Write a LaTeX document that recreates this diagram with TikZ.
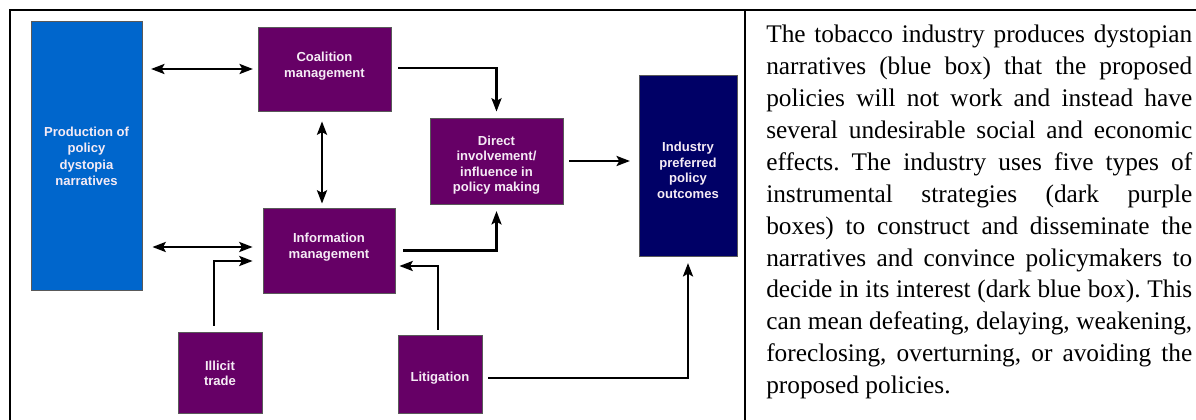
\documentclass[tikz,border=0pt]{standalone}
\usepackage{fontspec}
\setmainfont{Liberation Serif}
\setsansfont{Liberation Sans}
\usetikzlibrary{arrows.meta,fit,calc}
\definecolor{bluebox}{RGB}{0,102,204}
\definecolor{purplebox}{RGB}{102,0,102}
\definecolor{navybox}{RGB}{0,0,102}
\definecolor{boxtext}{RGB}{245,235,245}
\tikzset{
  box/.style={draw=black!65, line width=0.6pt, inner sep=0pt},
  boxlabel/.style={inner sep=0pt, text=boxtext,
    font=\sffamily\bfseries\fontsize{9.8}{11.6}\selectfont, align=center},
  tip/.style={Stealth[length=10pt,width=7.5pt,inset=2pt]},
  conn/.style={line width=1.9pt, -{Stealth[length=10pt,width=7.5pt,inset=2pt]}},
  conn2/.style={line width=1.9pt, {Stealth[length=10pt,width=7.5pt,inset=2pt]}-{Stealth[length=10pt,width=7.5pt,inset=2pt]}},
  frame/.style={line width=2pt, line cap=rect},
}
\newcommand{\jline}[1]{\makebox[319.5pt][s]{#1}\\}
\begin{document}
\begin{tikzpicture}[x=0.75pt,y=-0.75pt]
\useasboundingbox (0,0) rectangle (1196,420);
% frame
\coordinate (tl) at (10,10);
\coordinate (tr) at (1196,10);
\coordinate (bl) at (10,420);
\coordinate (dt) at (745,10);
\coordinate (db) at (745,420);
\draw[frame] (bl) -- (tl) -- (tr);
\draw[line width=1.6pt] (dt) -- (db);
% boxes
\node[box, fill=bluebox, fit={(31,21) (142,290)}] (blue) {};
\node[box, fill=purplebox, fit={(258,27) (391,111)}] (coal) {};
\node[box, fill=purplebox, fit={(263,208) (395,293)}] (info) {};
\node[box, fill=purplebox, fit={(430,118) (563,204)}] (direct) {};
\node[box, fill=navybox, fit={(639,75) (737,256)}] (ind) {};
\node[box, fill=purplebox, fit={(178,332) (262,413)}] (illicit) {};
\node[box, fill=purplebox, fit={(398,335) (482,413)}] (lit) {};
% box texts
\node[boxlabel, font=\sffamily\bfseries\fontsize{9.8}{12.3}\selectfont] (bluet) at ($(blue.center)+(0,1)$) {Production of\\policy\\dystopia\\narratives};
\node[boxlabel] (coalt) at ($(coal.center)+(0,-3)$) {Coalition\\management};
\node[boxlabel] (infot) at ($(info.center)+(0,-3.5)$) {Information\\management};
\node[boxlabel] (directt) at ($(direct.center)+(0,4)$) {Direct\\involvement/\\influence in\\policy making};
\node[boxlabel] (indt) at ($(ind.center)+(0,5)$) {Industry\\preferred\\policy\\outcomes};
\node[boxlabel] (illicitt) at ($(illicit.center)+(0,1)$) {Illicit\\trade};
\node[boxlabel] (litt) at ($(lit.center)+(0,4)$) {Litigation};
% connectors
\coordinate (cv) at ($(coal.south)+(-2.5,0)$);
\draw[conn2, shorten <=6.5pt, shorten >=3.5pt] (blue.east |- coal.west) -- (coal.west);
\draw[conn2, shorten <=7.5pt, shorten >=7.5pt] ($(blue.east |- info.west)+(0,-3.5)$) -- ($(info.west)+(0,-3.5)$);
\draw[conn2, shorten <=7.5pt, shorten >=3pt] (cv) -- (cv |- info.north);
\draw[conn, shorten <=5pt, shorten >=4.5pt] ($(coal.east)+(0,-1)$) -| (direct.north);
\draw[conn, shorten <=6pt, shorten >=5pt] (info.east) -| (direct.south);
\draw[conn, shorten <=4.5pt, shorten >=6.5pt] (direct.east) -- (direct.east -| ind.west);
\draw[conn, shorten <=4.5pt, shorten >=7.5pt] ($(illicit.north)+(-6,0)$) |- ($(info.west)+(0,10.5)$);
\draw[conn, shorten <=3.5pt, shorten >=3pt] ($(lit.north)+(-2,0)$) |- ($(info.east)+(0,15.5)$);
\draw[conn, shorten >=5pt] ($(lit.east)+(6,4)$) -| (ind.south);
% right text
\node[anchor=base west, inner sep=0pt] (txt) at (766,43) {\parbox[t]{319.5pt}{\frenchspacing\fontsize{19}{23.9}\selectfont
\jline{The tobacco industry produces dystopian}
\jline{narratives (blue box) that the proposed}
\jline{policies will not work and instead have}
\jline{several undesirable social and economic}
\jline{effects. The industry uses five types of}
\jline{instrumental strategies (dark purple}
\jline{boxes) to construct and disseminate the}
\jline{narratives and convince policymakers to}
\jline{decide in its interest (dark blue box). This}
\jline{can mean defeating, delaying, weakening,}
\jline{foreclosing, overturning, or avoiding the}
proposed policies.}};
\end{tikzpicture}
\end{document}
